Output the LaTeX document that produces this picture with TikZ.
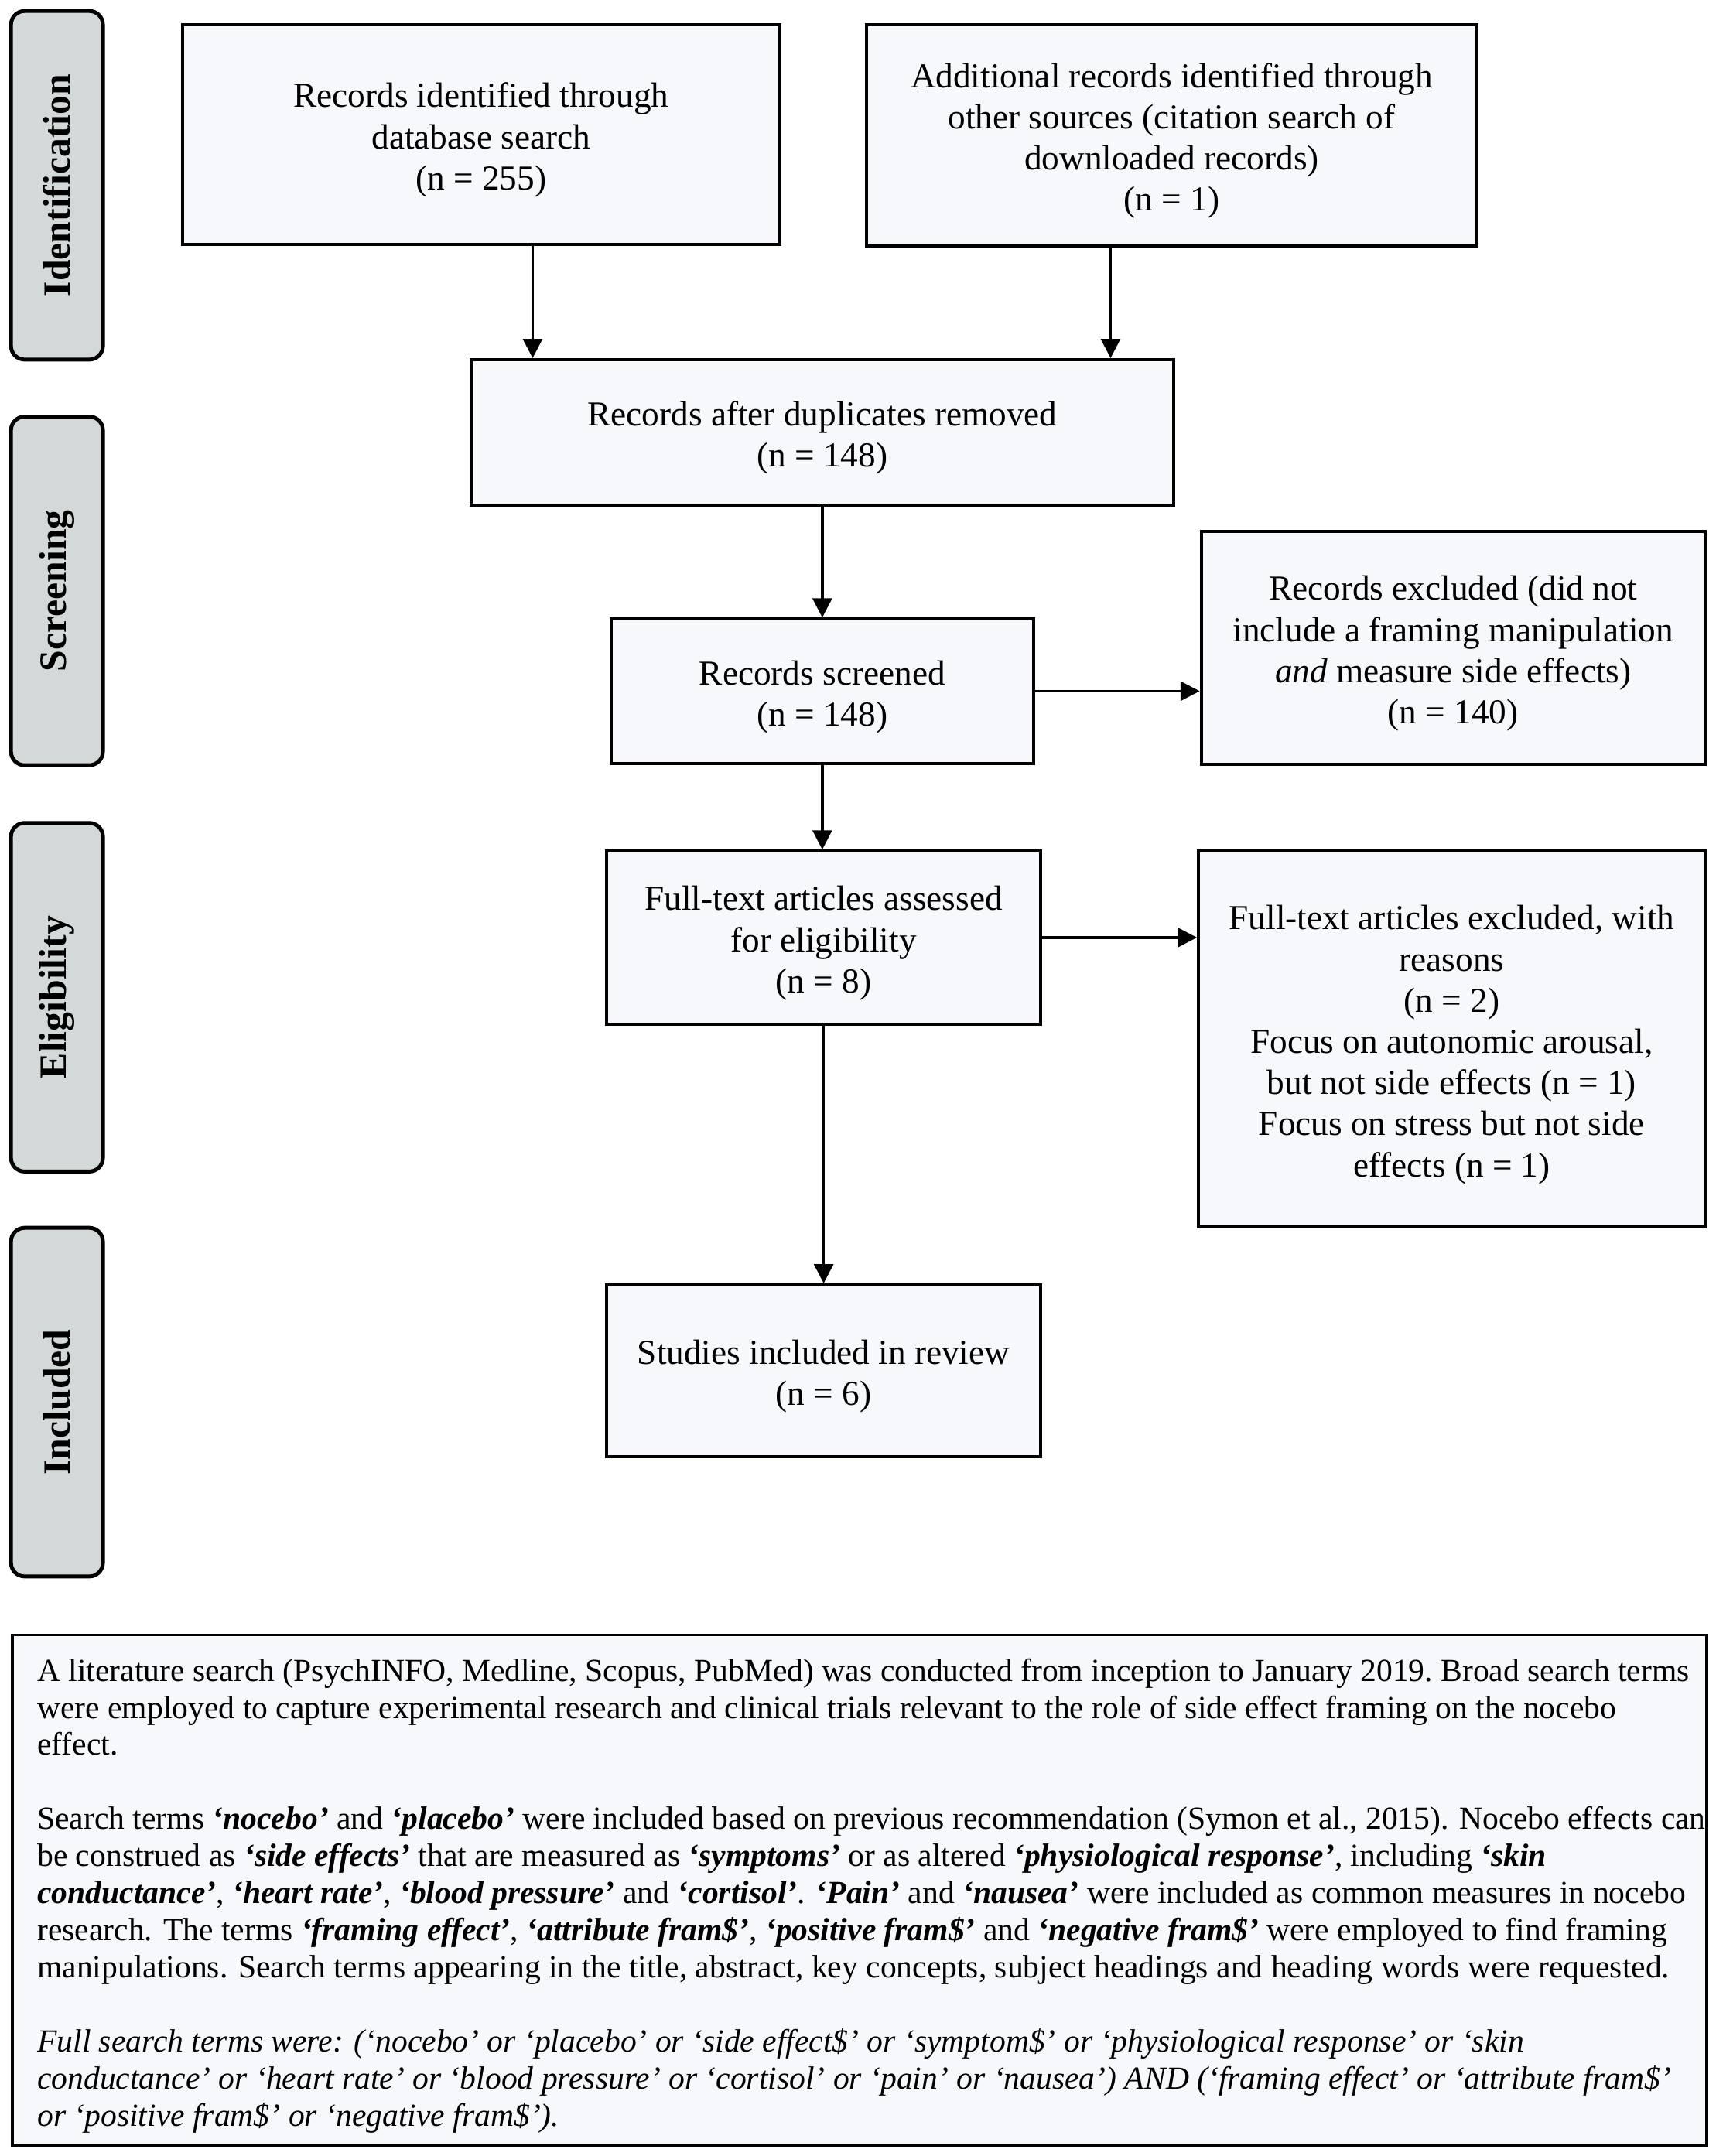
\documentclass[tikz,border=0pt]{standalone}
\usepackage{fontspec}
\setmainfont{Liberation Serif}
\usetikzlibrary{arrows.meta}
\definecolor{boxfill}{RGB}{247,248,252}
\definecolor{stagefill}{RGB}{211,216,217}
\newcommand{\tstrut}{\rule{0pt}{26pt}}
\begin{document}
\begin{tikzpicture}[x=1pt,y=-1pt,
  box/.style={draw, line width=2.2pt, fill=boxfill, align=center, inner sep=0pt,
    font=\fontsize{25.5}{30}\selectfont},
  stage/.style={draw, line width=2.8pt, fill=stagefill, rounded corners=10pt,
    minimum width=254pt, minimum height=67pt, rotate=90, inner sep=0pt,
    font=\bfseries\fontsize{28}{30}\selectfont},
  arr/.style={line width=2pt, -{Triangle[length=14pt,width=14pt]}},
  notebox/.style={draw, line width=2.2pt, fill=boxfill, inner sep=0pt},
  notetext/.style={inner sep=0pt, align=left, font=\fontsize{23.45}{27}\selectfont}
]
\useasboundingbox (0,0) rectangle (1250,1570.7);

% stages
\node[stage] (s1) at (41.5,135) {Identification};
\node[stage] (s2) at (41.5,430.5) {Screening};
\node[stage] (s3) at (41.5,726.5) {Eligibility};
\node[stage] (s4) at (41.5,1021.5) {Included};

% boxes
\node[box, minimum width=435pt, minimum height=160pt] (b1) at (350.5,98)
  {\tstrut Records identified through\\database search\\(n = 255)};
\node[box, minimum width=445pt, minimum height=161pt] (b2) at (853.5,98.5)
  {\tstrut Additional records identified through\\other sources (citation search of\\downloaded records)\\(n = 1)};
\node[box, minimum width=512pt, minimum height=106pt] (b3) at (599,315)
  {\tstrut Records after duplicates removed\\(n = 148)};
\node[box, minimum width=308pt, minimum height=105pt] (b4) at (599,503.5)
  {\tstrut Records screened\\(n = 148)};
\node[box, minimum width=367pt, minimum height=170pt] (b5) at (1058.5,472)
  {\tstrut Records excluded (did not\\include a framing manipulation\\\textit{and} measure side effects)\\(n = 140)};
\node[box, minimum width=316pt, minimum height=126pt] (b6) at (600,683)
  {\tstrut Full-text articles assessed\\for eligibility\\(n = 8)};
\node[box, minimum width=369pt, minimum height=274pt] (b7) at (1057.5,757)
  {\tstrut Full-text articles excluded, with\\reasons\\(n = 2)\\Focus on autonomic arousal,\\but not side effects (n = 1)\\Focus on stress but not side\\effects (n = 1)};
\node[box, minimum width=316pt, minimum height=125pt] (b8) at (600,998.5)
  {\tstrut Studies included in review\\(n = 6)};

% arrows
\draw[arr] ([xshift=37.5pt]b1.south) -- ([xshift=37.5pt]b1.south |- b3.north);
\draw[arr] ([xshift=-44.5pt]b2.south) -- ([xshift=-44.5pt]b2.south |- b3.north);
\draw[arr] (b3.south) -- (b3.south |- b4.north);
\draw[arr] (b4.east) -- (b4.east -| b5.west);
\draw[arr] (b4.south) -- (b4.south |- b6.north);
\draw[arr] (b6.east) -- (b6.east -| b7.west);
\draw[arr] (b6.south) -- (b8.north);

% note
\node[notebox, minimum width=1234pt, minimum height=372pt, anchor=north west] (note) at (8,1190) {};
\node[notetext, anchor=north west] (nt) at (27,1208) {\frenchspacing
A literature search (PsychINFO, Medline, Scopus, PubMed) was conducted from inception to January 2019. Broad search terms\\
were employed to capture experimental research and clinical trials relevant to the role of side effect framing on the nocebo\\
effect.\\[27pt]
Search terms \textbf{\textit{‘nocebo’}} and \textbf{\textit{‘placebo’}} were included based on previous recommendation (Symon et al., 2015). Nocebo effects can\\
be construed as \textbf{\textit{‘side effects’}} that are measured as \textbf{\textit{‘symptoms’}} or as altered \textbf{\textit{‘physiological response’}}, including \textbf{\textit{‘skin}}\\
\textbf{\textit{conductance’}}, \textbf{\textit{‘heart rate’}}, \textbf{\textit{‘blood pressure’}} and \textbf{\textit{‘cortisol’}}. \textbf{\textit{‘Pain’}} and \textbf{\textit{‘nausea’}} were included as common measures in nocebo\\
research. The terms \textbf{\textit{‘framing effect’}}, \textbf{\textit{‘attribute fram\$’}}, \textbf{\textit{‘positive fram\$’}} and \textbf{\textit{‘negative fram\$’}} were employed to find framing\\
manipulations. Search terms appearing in the title, abstract, key concepts, subject headings and heading words were requested.\\[27pt]
\textit{Full search terms were: (‘nocebo’ or ‘placebo’ or ‘side effect\$’ or ‘symptom\$’ or ‘physiological response’ or ‘skin}\\
\textit{conductance’ or ‘heart rate’ or ‘blood pressure’ or ‘cortisol’ or ‘pain’ or ‘nausea’) AND (‘framing effect’ or ‘attribute fram\$’}\\
\textit{or ‘positive fram\$’ or ‘negative fram\$’).}};
\end{tikzpicture}
\end{document}
